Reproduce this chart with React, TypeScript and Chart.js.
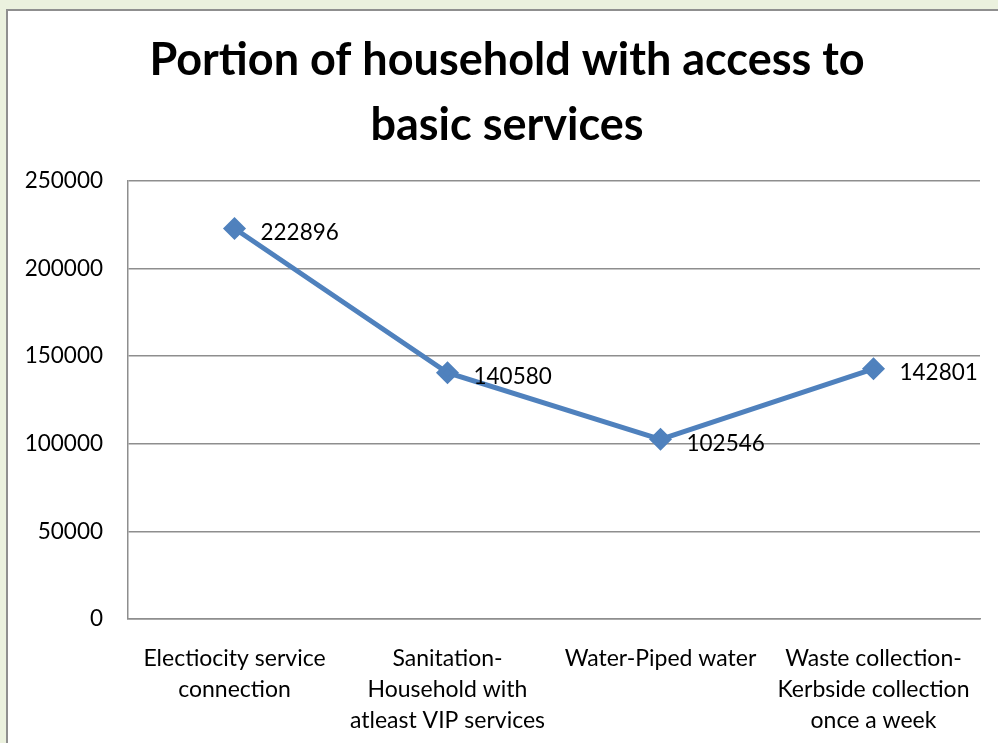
import React, { useEffect, useRef } from "react";
import { Chart, registerables } from "chart.js";

Chart.register(...registerables);

const titleLines = ["Portion of household with access to", "basic services"];
const categories: string[][] = [
  ["Electiocity service", "connection"],
  ["Sanitation-", "Household with", "atleast VIP services"],
  ["Water-Piped water"],
  ["Waste collection-", "Kerbside collection", "once a week"],
];
const values = [222896, 140580, 102546, 142801];
const yTicks = [0, 50000, 100000, 150000, 200000, 250000];

const FONT = "Lato, 'Open Sans', sans-serif";

const titlePlugin = {
  id: "customTitle",
  afterDraw(chart: any) {
    const ctx = chart.ctx;
    ctx.save();
    ctx.fillStyle = "#000";
    ctx.font = `bold 45px ${FONT}`;
    ctx.textAlign = "center";
    ctx.textBaseline = "alphabetic";
    const cx = 499;
    ctx.fillText(titleLines[0], cx, 64);
    ctx.fillText(titleLines[1], cx, 129);
    ctx.restore();
  },
};

const labelPlugin = {
  id: "pointLabels",
  afterDatasetsDraw(chart: any) {
    const ctx = chart.ctx;
    const meta = chart.getDatasetMeta(0);
    ctx.save();
    ctx.fillStyle = "#000";
    ctx.font = `22.5px ${FONT}`;
    ctx.textAlign = "left";
    ctx.textBaseline = "middle";
    meta.data.forEach((pt: any, i: number) => {
      ctx.fillText(String(values[i]), pt.x + 26, pt.y + 4);
    });
    ctx.restore();
  },
};

export default function App() {
  const ref = useRef<HTMLCanvasElement>(null);
  useEffect(() => {
    document.body.style.margin = "0";
    const chart = new Chart(ref.current!, {
      type: "line",
      data: {
        labels: categories,
        datasets: [
          {
            data: values,
            borderColor: "#4F81BD",
            backgroundColor: "#4F81BD",
            borderWidth: 5,
            pointStyle: "rectRot",
            pointRadius: 8,
            pointHoverRadius: 8,
            pointBackgroundColor: "#4F81BD",
            pointBorderColor: "#4F81BD",
            tension: 0,
          },
        ],
      },
      options: {
        animation: false,
        responsive: false,
        maintainAspectRatio: false,
        layout: { padding: { top: 170, right: 18, bottom: 0, left: 0 } },
        plugins: {
          legend: { display: false },
          title: { display: false },
          tooltip: { enabled: false },
        },
        scales: {
          x: {
            offset: true,
            grid: { display: false, drawTicks: false },
            border: { display: true, color: "#8e8e8e", width: 1.5 },
            ticks: {
              color: "#000",
              font: { family: FONT, size: 23, lineHeight: 1.35 },
              padding: 24,
              maxRotation: 0,
              autoSkip: false,
            },
            afterFit(scale: any) {
              scale.height = 124;
            },
          },
          y: {
            min: 0,
            max: 250000,
            afterBuildTicks(scale: any) {
              scale.ticks = yTicks.map((v) => ({ value: v }));
            },
            grid: { color: "#8e8e8e", lineWidth: 1.5, drawTicks: false },
            border: { display: true, color: "#8e8e8e", width: 1.5 },
            ticks: {
              color: "#000",
              font: { family: FONT, size: 22.5 },
              padding: 25,
              callback: (v: any) => String(v),
            },
            afterFit(scale: any) {
              scale.width = 120;
            },
          },
        },
      },
      plugins: [titlePlugin, labelPlugin],
    });
    return () => chart.destroy();
  }, []);

  return (
    <div style={{ position: "relative", width: 998, height: 743, background: "rgb(235,241,222)", overflow: "hidden" }}>
      <div
        style={{
          position: "absolute",
          left: 6,
          top: 9,
          width: 992,
          height: 734,
          background: "#fff",
          borderLeft: "2px solid #8f8f8f",
          borderTop: "2px solid #8f8f8f",
          boxSizing: "border-box",
        }}
      >
        <canvas ref={ref} width={990} height={732} style={{ display: "block", width: 990, height: 732 }} />
      </div>
    </div>
  );
}
